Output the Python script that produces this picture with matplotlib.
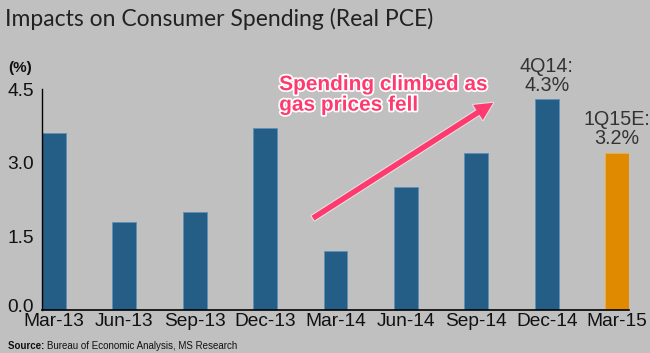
import matplotlib.pyplot as plt
import matplotlib.patheffects as pe
import matplotlib.transforms as mtransforms
import numpy as np

# data
quarters = ['Mar-13', 'Jun-13', 'Sep-13', 'Dec-13', 'Mar-14', 'Jun-14', 'Sep-14', 'Dec-14', 'Mar-15']
pce_growth = [3.6, 1.8, 2.0, 3.7, 1.2, 2.5, 3.2, 4.3, 3.2]
is_estimate = [False] * 8 + [True]
yticks = [0.0, 1.5, 3.0, 4.5]

bg = '#c0c0c0'
blue = '#245d86'
orange = '#e08a00'

plt.rcParams['font.family'] = ['Liberation Sans', 'DejaVu Sans']

fig = plt.figure(figsize=(6.5, 3.53), dpi=100, facecolor=bg)
ax = fig.add_axes([42 / 650, 1 - 310 / 353, 587 / 650, 221 / 353])
ax.set_facecolor(bg)

x = np.arange(len(quarters))
colors = [orange if e else blue for e in is_estimate]
edges = ['#f0b040' if e else '#5d90b8' for e in is_estimate]
ax.bar(x, pce_growth, width=0.34, color=colors, edgecolor=edges, linewidth=0.6, zorder=2)

ax.set_xlim(-0.17, len(quarters) - 1 + 0.17)
ax.set_ylim(0, 4.5)
ax.set_xticks(x)
ax.set_xticklabels(quarters)
ax.set_yticks(yticks)
ax.set_yticklabels([f'{v:.1f}' for v in yticks])
ax.tick_params(axis='both', length=0, labelsize=13.8, colors='#111111')
ax.tick_params(axis='x', pad=2)
ax.tick_params(axis='y', pad=6)
# nudge the 0.0 label up so it clears Mar-13
lift = mtransforms.ScaledTranslation(0, 5 / 100, fig.dpi_scale_trans)
zero_lbl = ax.get_yticklabels()[0]
zero_lbl.set_transform(zero_lbl.get_transform() + lift)
for s in ['top', 'right']:
    ax.spines[s].set_visible(False)
ax.spines['left'].set_linewidth(1.0)
ax.spines['bottom'].set_linewidth(1.2)

# value callouts over the last two bars
ax.text(x[7], 4.77, f'4Q14:\n{pce_growth[7]}%', ha='center', va='center',
        fontsize=14.2, color='#333333', linespacing=1.0)
ax.text(x[8], 3.69, f'1Q15E:\n{pce_growth[8]}%', ha='center', va='center',
        fontsize=14.2, color='#333333', linespacing=1.0)

# pink arrow and note
pink = '#ff3a6e'
ax.annotate('', xy=(6.24, 4.22), xytext=(3.68, 1.87), annotation_clip=False,
            arrowprops=dict(arrowstyle='simple,head_length=1.3,head_width=1.3,tail_width=0.4',
                            color=pink, lw=0, shrinkA=0, shrinkB=0,
                            path_effects=[pe.withStroke(linewidth=1.5, foreground='#e4e4e4')]))
ax.text(3.2, 4.38, 'Spending climbed as\ngas prices fell', ha='left', va='center',
        fontsize=15, fontweight='bold', color=pink, linespacing=1.1,
        path_effects=[pe.withStroke(linewidth=2.5, foreground='white')])

fig.text(5 / 650, 1 - 19 / 353, 'Impacts on Consumer Spending (Real PCE)', ha='left', va='center',
         family=['Lato', 'DejaVu Sans'], fontsize=16.5, color='#222222')
fig.text(8 / 650, 1 - 68 / 353, '(%)', ha='left', va='center', fontsize=11, fontweight='bold',
         color='#111111')
src = fig.text(8 / 650, 1 - 346 / 353, 'Source: ', ha='left', va='center', fontsize=7,
               fontweight='bold', color='#111111')
fig.canvas.draw()
src_right = src.get_window_extent().x1 / 650
fig.text(src_right, 1 - 346 / 353, 'Bureau of Economic Analysis, MS Research', ha='left',
         va='center', fontsize=7, color='#111111')

fig.savefig('out.png', dpi=100, facecolor=bg)
